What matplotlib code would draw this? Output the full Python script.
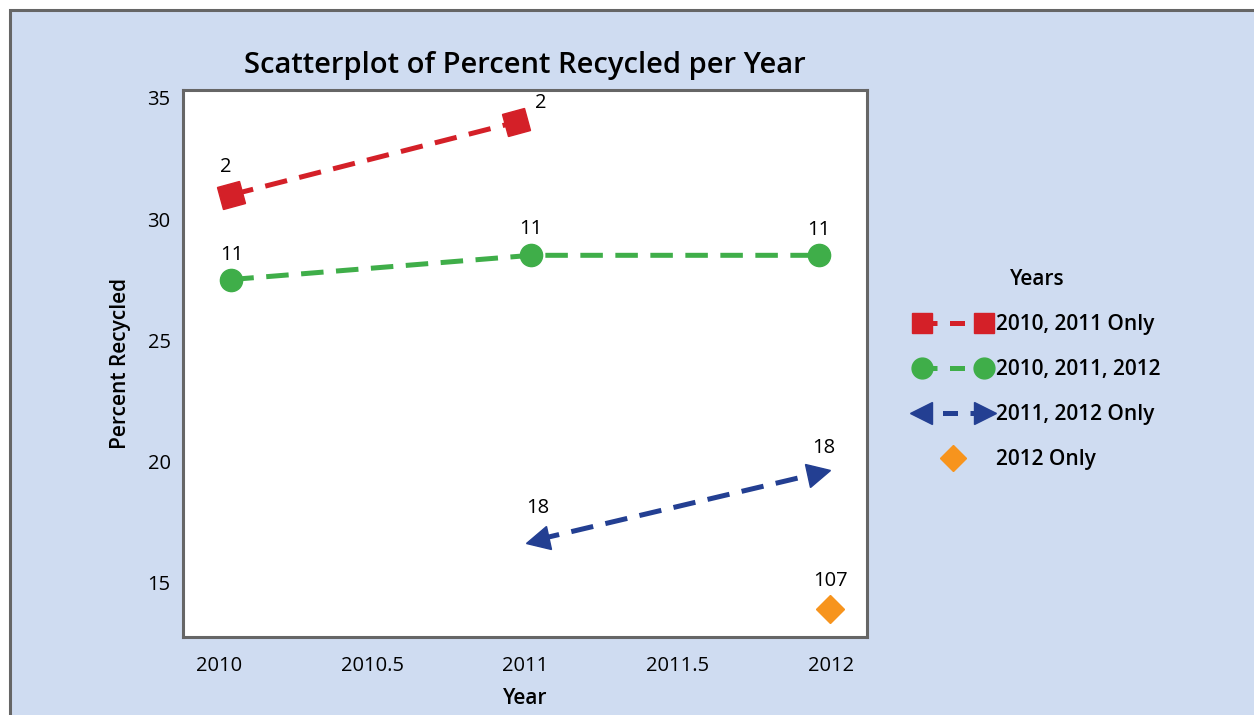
import numpy as np
import matplotlib
matplotlib.use("Agg")
import matplotlib.pyplot as plt
from matplotlib.lines import Line2D
from matplotlib.markers import MarkerStyle
from matplotlib.transforms import Affine2D
from matplotlib.patches import Rectangle
from matplotlib.legend_handler import HandlerBase, HandlerLine2D

plt.rcParams['font.family'] = ['Open Sans', 'DejaVu Sans']

# data (x slightly jittered as in the original)
red_x = [2010.04, 2010.97]
red_y = [31.0, 34.0]
red_n = [2, 2]

green_x = [2010.04, 2011.02, 2011.96]
green_y = [27.5, 28.5, 28.5]
green_n = [11, 11, 11]

blue_x = [2011.04, 2011.96]
blue_y = [16.75, 19.5]
blue_n = [18, 18]

orange_x = [2011.997]
orange_y = [13.9]
orange_n = [107]

x_ticks = [2010, 2010.5, 2011, 2011.5, 2012]
x_labels = ["2010", "2010.5", "2011", "2011.5", "2012"]
y_ticks = [15, 20, 25, 30, 35]

RED = "#d42028"
GREEN = "#3fae49"
BLUE = "#233f92"
ORANGE = "#f7941d"
BG = "#cfdcf1"
EDGE = "#666666"

fig = plt.figure(figsize=(12.54, 7.15), dpi=100, facecolor="white")
# blue panel with border on top/left
fig.patches.append(Rectangle((10 / 1254, -0.1), 1.2, 1.1 - 10 / 715,
                             transform=fig.transFigure, facecolor=BG,
                             edgecolor=EDGE, lw=2.2, zorder=-10))

ax = fig.add_axes([183 / 1254, 1 - 637 / 715, (867 - 183) / 1254, (637 - 90) / 715])
ax.set_facecolor("white")
ax.set_xlim(2009.882, 2012.118)
ax.set_ylim(12.73, 35.33)
for s in ax.spines.values():
    s.set_color(EDGE)
    s.set_linewidth(2.2)

ax.set_xticks(x_ticks)
ax.set_xticklabels(x_labels)
ax.set_yticks(y_ticks)
ax.tick_params(axis="both", length=0, labelsize=14.5)
ax.tick_params(axis="x", pad=14)
ax.tick_params(axis="y", pad=9)

ax.set_title("Scatterplot of Percent Recycled per Year", fontsize=21,
             fontweight="semibold", pad=12)
ax.set_xlabel("Year", fontsize=15, fontweight="semibold", labelpad=8)
ax.set_ylabel("Percent Recycled", fontsize=15, fontweight="semibold", labelpad=12)

lw = 3.6
dash = (4.5, 2.5)


def angle_of(xs, ys):
    p = ax.transData.transform(np.column_stack([xs, ys]))
    d = p[-1] - p[0]
    return np.degrees(np.arctan2(d[1], d[0]))


red_ang = angle_of(red_x, red_y)
blue_ang = angle_of(blue_x, blue_y)

ax.plot(red_x, red_y, color=RED, lw=lw, dashes=dash, zorder=2)
ax.plot(red_x, red_y, ls="none", color=RED, ms=16,
        marker=MarkerStyle("s", transform=Affine2D().rotate_deg(red_ang)), zorder=3)

ax.plot(green_x, green_y, color=GREEN, lw=lw, dashes=dash, marker="o", ms=16, zorder=2)

ax.plot(blue_x, blue_y, color=BLUE, lw=lw, dashes=dash, zorder=2)
ax.plot(blue_x[:1], blue_y[:1], ls="none", color=BLUE, ms=17,
        marker=MarkerStyle("<", transform=Affine2D().rotate_deg(blue_ang)), zorder=3)
ax.plot(blue_x[1:], blue_y[1:], ls="none", color=BLUE, ms=17,
        marker=MarkerStyle(">", transform=Affine2D().rotate_deg(blue_ang)), zorder=3)

ax.plot(orange_x, orange_y, ls="none", color=ORANGE, marker="D", ms=14, zorder=3)

# count labels
label_sets = [
    (red_x, red_y, red_n, [(-4, 20), (18, 14)]),
    (green_x, green_y, green_n, [(0, 18), (0, 19), (0, 18)]),
    (blue_x, blue_y, blue_n, [(0, 23), (4, 18)]),
    (orange_x, orange_y, orange_n, [(0, 20)]),
]
for xs, ys, ns, offs in label_sets:
    for x, y, n, off in zip(xs, ys, ns, offs):
        ax.annotate(str(n), (x, y), xytext=off, textcoords="offset points",
                    ha="center", va="center", fontsize=14.5)


class ArrowHandler(HandlerBase):
    def create_artists(self, legend, orig_handle, xdescent, ydescent,
                       width, height, fontsize, trans):
        y = height / 2 - ydescent
        x0, x1 = -xdescent, width - xdescent
        line = Line2D([x0, x1], [y, y], color=BLUE, lw=lw, dashes=(3, 2.5))
        left = Line2D([x0 + 4], [y], marker="<", ms=16, color=BLUE, ls="none")
        right = Line2D([x1 - 4], [y], marker=">", ms=16, color=BLUE, ls="none")
        for a in (line, left, right):
            a.set_transform(trans)
        return [line, left, right]


h_red = Line2D([], [], color=RED, lw=lw, dashes=(3, 2.5), marker="s", ms=15)
h_green = Line2D([], [], color=GREEN, lw=lw, dashes=(3, 2.5), marker="o", ms=15)
h_blue = Line2D([], [], color=BLUE)
h_orange = Line2D([], [], ls="none", color=ORANGE, marker="D", ms=13)

leg = fig.legend([h_red, h_green, h_blue, h_orange],
                 ["2010, 2011 Only", "2010, 2011, 2012", "2011, 2012 Only", "2012 Only"],
                 handler_map={h_blue: ArrowHandler(), h_orange: HandlerLine2D(numpoints=1)},
                 title="Years", loc="upper left", bbox_to_anchor=(0.715, 0.65),
                 frameon=False, numpoints=2, handlelength=3.6, handletextpad=0.25,
                 labelspacing=1.15, prop={"size": 15, "weight": "semibold"},
                 title_fontproperties={"size": 15, "weight": "semibold"})
leg._legend_box.align = "center"

fig.savefig("out.png", dpi=100, facecolor=fig.get_facecolor())
